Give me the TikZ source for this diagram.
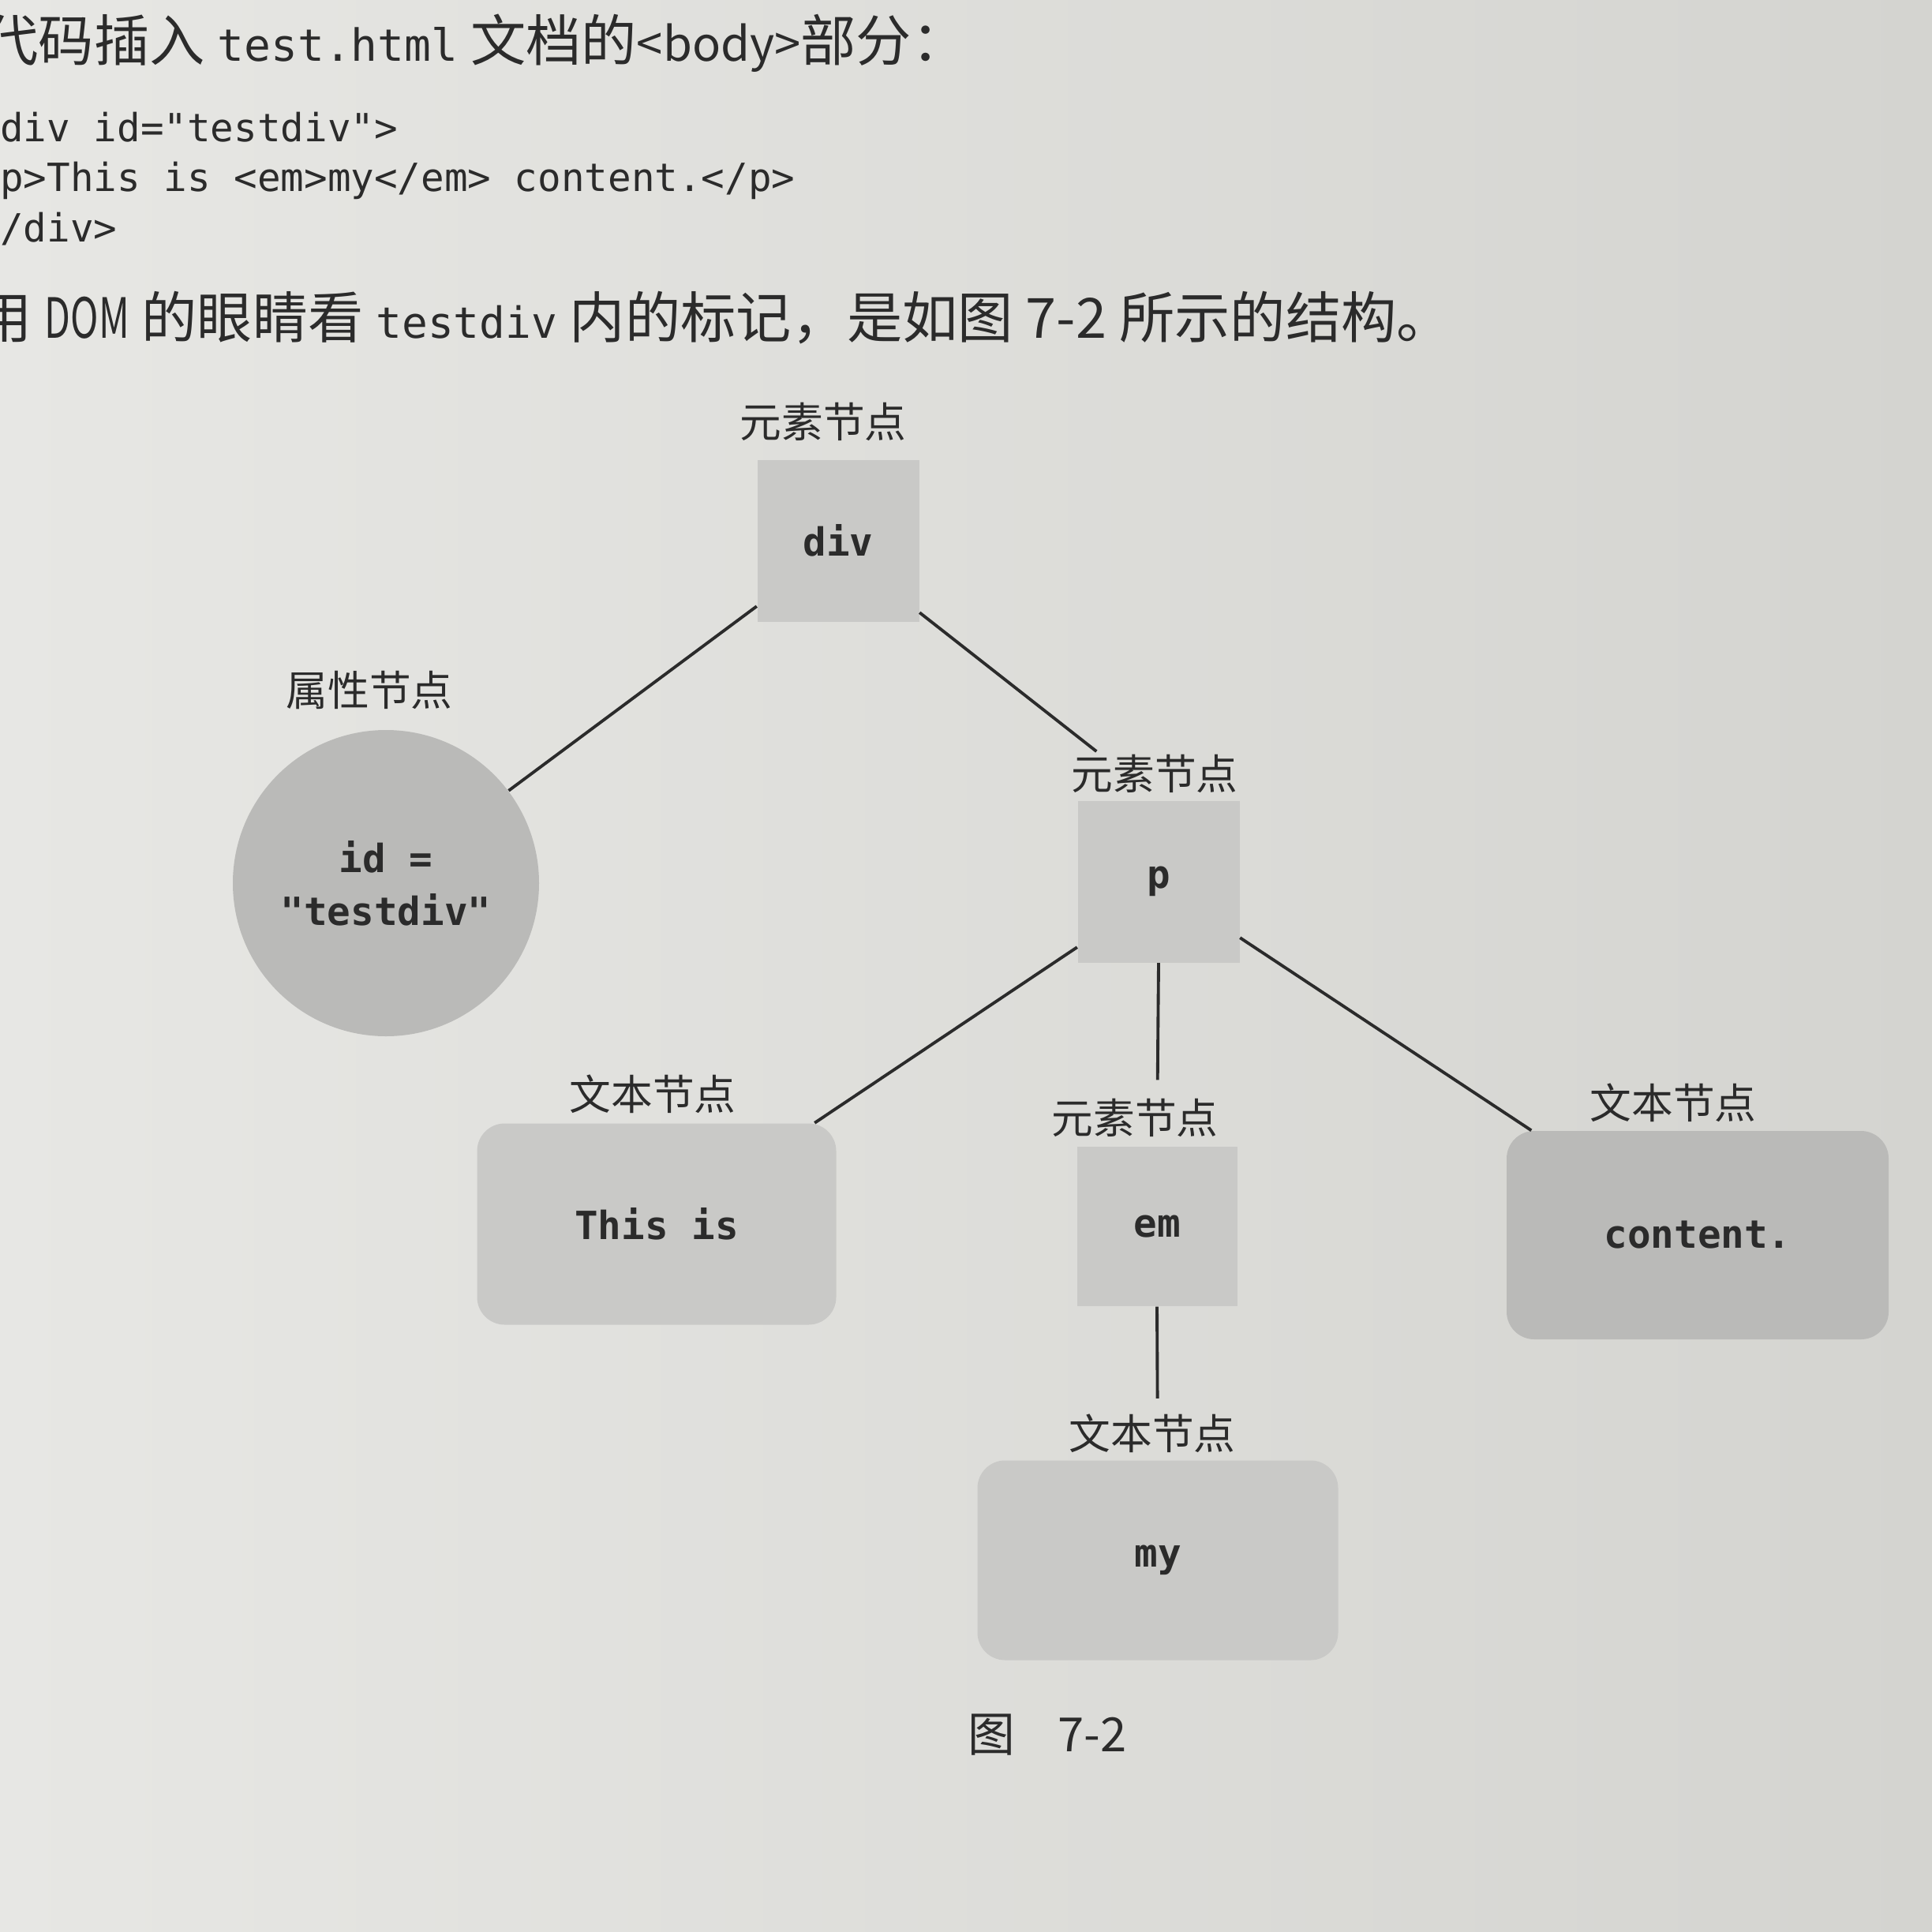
\documentclass[tikz,border=0pt]{standalone}
\usepackage{fontspec}
\newfontfamily\cjk{Noto Sans CJK SC}
\newfontfamily\narrowsans[FakeStretch=0.68]{Noto Sans CJK SC}
\newfontfamily\codefont{DejaVu Sans Mono}
\usetikzlibrary{positioning,calc}
\definecolor{paperL}{HTML}{E7E7E4}
\definecolor{paperR}{HTML}{D4D4D0}
\definecolor{boxgray}{HTML}{C9C9C7}
\definecolor{darkbox}{HTML}{BABAB8}
\definecolor{inkgray}{HTML}{2B2B2B}
\tikzset{
  elembox/.style={fill=boxgray, minimum width=2.05cm, minimum height=2.05cm, inner sep=0pt, font=\codefont\bfseries\fontsize{14pt}{17pt}\selectfont, text=inkgray},
  textbox/.style={fill=boxgray, rounded corners=0.35cm, minimum width=4.55cm, minimum height=2.55cm, inner sep=0pt, font=\codefont\bfseries\fontsize{14pt}{17pt}\selectfont, text=inkgray},
  attrcirc/.style={circle, fill=darkbox, minimum size=3.88cm, inner sep=0pt, align=center, font=\codefont\bfseries\fontsize{14pt}{19pt}\selectfont, text=inkgray},
  nodelab/.style={font=\cjk\fontsize{15pt}{18pt}\selectfont, text=inkgray, inner sep=0pt},
  bodytext/.style={anchor=west, inner sep=0pt, text=inkgray, font=\cjk\fontsize{20pt}{24pt}\selectfont},
  codetext/.style={anchor=west, inner sep=0pt, text=inkgray, font=\codefont\fontsize{14pt}{17pt}\selectfont},
  treeline/.style={line width=1.1pt, draw=inkgray}
}

\begin{document}
\begin{tikzpicture}
  \useasboundingbox (0,0) rectangle (24.48,-24.48);
  \shade[left color=paperL, right color=paperR] (0,0) rectangle (24.48,-24.48);

  % text of the page
  \node[bodytext] (intro) at (-0.22,-0.55) {代码插入 {\codefont\fontsize{16pt}{20pt}\selectfont test.html} 文档的{\fontsize{17pt}{20pt}\selectfont <body>}部分：};
  \node[codetext] (code1) at (-0.30,-1.61) {<div id="testdiv">};
  \node[codetext] (code2) at (-0.30,-2.29) {<p>This is <em>my</em> content.</p>};
  \node[codetext] (code3) at (-0.30,-2.90) {</div>};
  \node[bodytext] (dom) at (-0.30,-4.03) {用 {\narrowsans DOM} 的眼睛看 {\codefont\fontsize{15.5pt}{20pt}\selectfont testdiv} 内的标记，是如图 7-2 所示的结构。};

  % tree
  \node[nodelab] (divlab) at (10.43,-5.34) {元素节点};
  \node[elembox] (div) at (10.62,-6.85) {div};
  \node[nodelab] (idlab) at (4.68,-8.74) {属性节点};
  \node[attrcirc] (attr) at (4.89,-11.19) {id =\\"testdiv"};
  \node[nodelab] (plab) at (14.63,-9.80) {元素节点};
  \node[elembox] (p) at (14.68,-11.17) {p};
  \node[nodelab] (thislab) at (8.27,-13.86) {文本节点};
  \node[textbox] (this) at (8.32,-15.51) {This is};
  \node[nodelab] (emlab) at (14.38,-14.16) {元素节点};
  \node[elembox, minimum width=2.03cm, minimum height=2.02cm] (em) at (14.66,-15.54) {em};
  \node[nodelab] (contlab) at (21.20,-13.97) {文本节点};
  \node[textbox, fill=darkbox, minimum width=4.84cm, minimum height=2.64cm] (content) at (21.51,-15.65) {content.};
  \node[nodelab] (mylab) at (14.60,-18.16) {文本节点};
  \node[textbox, minimum width=4.57cm, minimum height=2.53cm] (my) at (14.67,-19.77) {my};

  \draw[treeline] ([yshift=0.2cm]div.south west) -- (attr.37);
  \draw[treeline, shorten >=1cm] ([yshift=0.12cm]div.south east) -- (p.north);
  \draw[treeline] ([yshift=0.2cm]p.south west) -- ([xshift=-0.28cm]this.north east);
  \draw[treeline, shorten >=0.84cm] (p.south) -- (em.north);
  \draw[treeline] ([yshift=0.32cm]p.south east) -- ([xshift=0.32cm]content.north west);
  \draw[treeline, shorten >=0.78cm] (em.south) -- (my.north);

  \node[nodelab, font=\cjk\fontsize{17pt}{20pt}\selectfont] (caption) at (13.27,-21.98) {图\hspace{0.9em}7-2};
\end{tikzpicture}
\end{document}
